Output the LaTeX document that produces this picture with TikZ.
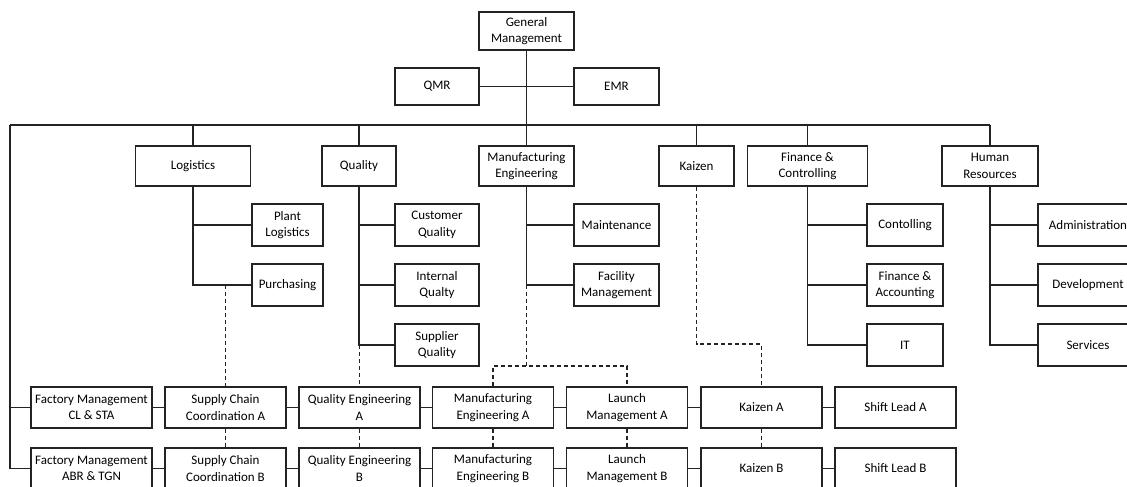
\documentclass[tikz,border=0pt]{standalone}
\usepackage{fontspec}
\setmainfont{Carlito}
\begin{document}
\begin{tikzpicture}[x=1pt,y=-1pt,
  line width=1.2pt, draw={rgb,255:red,35;green,35;blue,35},
  box/.style={draw, rectangle, inner sep=0pt, align=center, text=black,
    font=\fontsize{13}{16.5}\selectfont},
  topbox/.style={box, minimum height=40pt},
  subbox/.style={box, minimum height=42pt},
  rowbox/.style={box, minimum width=121pt, minimum height=41pt},
  dsh/.style={dash pattern=on 4pt off 3pt}]
\clip (0,0) rectangle (1127,487);
% top
\node[box, minimum width=95pt, minimum height=38pt] (gm) at (526.5,31) {General\\Management};
\node[box, minimum width=84pt, minimum height=37pt] (qmr) at (437,86.5) {QMR};
\node[box, minimum width=85pt, minimum height=37pt] (emr) at (616.5,86.5) {EMR};
% level 2
\node[topbox, minimum width=115pt] (log) at (193,166) {Logistics};
\node[topbox, minimum width=74pt] (qual) at (359,166) {Quality};
\node[topbox, minimum width=95pt] (mfg) at (526.5,166) {Manufacturing\\Engineering};
\node[topbox, minimum width=75pt] (kai) at (696.5,166) {Kaizen};
\node[topbox, minimum width=120pt] (fin) at (807.5,166) {Finance \&\\Controlling};
\node[topbox, minimum width=96pt] (hr) at (990,166) {Human\\Resources};
% sub boxes
\node[subbox, minimum width=71pt] (pl) at (287.5,225) {Plant\\Logistics};
\node[subbox, minimum width=71pt] (pur) at (287.5,285) {Purchasing};
\node[subbox, minimum width=84pt] (cq) at (437,225) {Customer\\Quality};
\node[subbox, minimum width=84pt] (iq) at (437,285) {Internal\\Qualty};
\node[subbox, minimum width=84pt] (sq) at (437,345) {Supplier\\Quality};
\node[subbox, minimum width=85pt] (mnt) at (616.5,225) {Maintenance};
\node[subbox, minimum width=85pt] (fm) at (616.5,285) {Facility\\Management};
\node[subbox, minimum width=76pt] (con) at (905,225) {Contolling};
\node[subbox, minimum width=76pt] (fa) at (905,285) {Finance \&\\Accounting};
\node[subbox, minimum width=76pt] (it) at (905,345) {IT};
\node[subbox, minimum width=100pt] (adm) at (1088,225) {Administration};
\node[subbox, minimum width=100pt] (dev) at (1088,285) {Development};
\node[subbox, minimum width=100pt] (srv) at (1088,345) {Services};
% row A
\node[rowbox] (fca) at (91.5,407.5) {Factory Management\\CL \& STA};
\node[rowbox] (sca) at (225.5,407.5) {Supply Chain\\Coordination A};
\node[rowbox] (qea) at (359.5,407.5) {Quality Engineering\\A};
\node[rowbox] (mea) at (493,407.5) {Manufacturing\\Engineering A};
\node[rowbox] (lma) at (627,407.5) {Launch\\Management A};
\node[rowbox] (kza) at (761.5,407.5) {Kaizen A};
\node[rowbox] (sla) at (895.5,407.5) {Shift Lead A};
% row B
\node[rowbox] (fcb) at (91.5,468.5) {Factory Management\\ABR \& TGN};
\node[rowbox] (scb) at (225.5,468.5) {Supply Chain\\Coordination B};
\node[rowbox] (qeb) at (359.5,468.5) {Quality Engineering\\B};
\node[rowbox] (meb) at (493,468.5) {Manufacturing\\Engineering B};
\node[rowbox] (lmb) at (627,468.5) {Launch\\Management B};
\node[rowbox] (kzb) at (761.5,468.5) {Kaizen B};
\node[rowbox] (slb) at (895.5,468.5) {Shift Lead B};
% coordinates
\coordinate (busL) at (10,125);
\coordinate (busR) at (990,125);
\coordinate (mj) at (526.5,366);
\coordinate (kj) at (761.5,344);
% top connectors
\draw (gm) -- (mfg);
\draw (qmr) -- (emr);
\draw (busL) -- (busR);
\draw (log.north |- busL) -- (log.north);
\draw (qual.north |- busL) -- (qual.north);
\draw (kai.north |- busL) -- (kai.north);
\draw (fin.north |- busL) -- (fin.north);
\draw (busR) -- (hr.north);
\draw[line width=1.6pt] (busL) |- (fcb.west);
\draw (busL |- fca.west) -- (fca.west);
% branches
\draw (log.south) |- (pur.west);
\draw (log.south |- pl.west) -- (pl.west);
\draw (qual.south) |- (sq.west);
\draw (qual.south |- cq.west) -- (cq.west);
\draw (qual.south |- iq.west) -- (iq.west);
\draw (mfg.south) |- (fm.west);
\draw (mfg.south |- mnt.west) -- (mnt.west);
\draw (fin.south) |- (it.west);
\draw (fin.south |- con.west) -- (con.west);
\draw (fin.south |- fa.west) -- (fa.west);
\draw (hr.south) |- (srv.west);
\draw (hr.south |- adm.west) -- (adm.west);
\draw (hr.south |- dev.west) -- (dev.west);
% dashed links
\draw[dsh] (sca.north |- pur.west) -- (sca.north);
\draw[dsh] (qea.north |- sq.west) -- (qea.north);
\draw[dsh] (mj |- fm.west) -- (mj);
\draw[dsh] (mea.north) |- (mj) -| (lma.north);
\draw[dsh] (kai.south) |- (kj) -- (kza.north);
\draw[dsh] (sca) -- (scb);
\draw[dsh] (qea) -- (qeb);
\draw[dsh] (mea) -- (meb);
\draw[dsh] (lma) -- (lmb);
\draw[dsh] (kza) -- (kzb);
% row connectors
\draw (fca) -- (sca); \draw (sca) -- (qea); \draw (qea) -- (mea);
\draw (mea) -- (lma); \draw (lma) -- (kza); \draw (kza) -- (sla);
\draw (fcb) -- (scb); \draw (scb) -- (qeb); \draw (qeb) -- (meb);
\draw (meb) -- (lmb); \draw (lmb) -- (kzb); \draw (kzb) -- (slb);
\end{tikzpicture}
\end{document}
